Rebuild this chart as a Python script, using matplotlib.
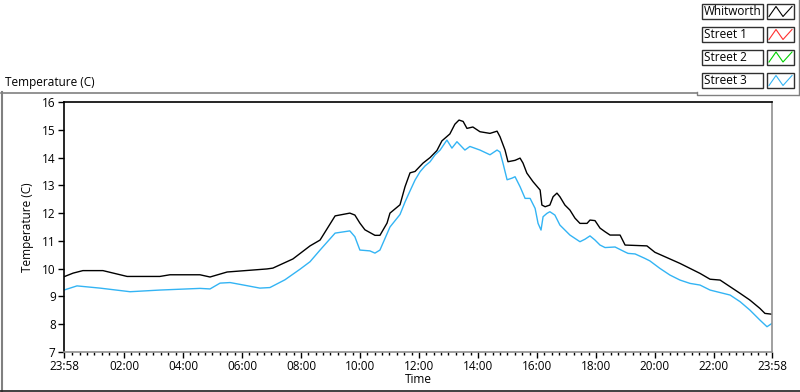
import matplotlib
matplotlib.use("Agg")
import matplotlib.pyplot as plt
from matplotlib.ticker import FixedLocator, MultipleLocator

# hours since 23:58 and temperature (C)
whit_t = [0.00, 0.31, 0.64, 1.32, 2.14, 3.25, 3.59, 4.61, 4.95, 5.53, 6.88, 7.08, 7.76,
          8.34, 8.68, 9.19, 9.69, 9.86, 10.03, 10.20, 10.54, 10.71, 10.95, 11.05, 11.39,
          11.56, 11.73, 11.90, 12.17, 12.41, 12.64, 12.81, 13.08, 13.25, 13.39, 13.53,
          13.66, 13.86, 14.10, 14.44, 14.68, 14.78, 14.95, 15.05, 15.29, 15.46, 15.56,
          15.69, 15.90, 16.14, 16.20, 16.31, 16.47, 16.58, 16.71, 16.81, 16.98, 17.15,
          17.32, 17.49, 17.73, 17.83, 18.00, 18.17, 18.34, 18.51, 18.85, 19.02, 19.76,
          20.03, 20.37, 20.88, 21.22, 21.56, 21.90, 22.24, 22.58, 22.92, 23.25, 23.59,
          23.76, 24.00]
whit_v = [9.71, 9.84, 9.93, 9.93, 9.72, 9.72, 9.78, 9.78, 9.70, 9.88, 9.99, 10.02, 10.35,
          10.82, 11.03, 11.90, 12.00, 11.93, 11.64, 11.40, 11.20, 11.20, 11.64, 12.00, 12.30,
          12.95, 13.45, 13.50, 13.80, 14.00, 14.25, 14.60, 14.85, 15.20, 15.35, 15.30,
          15.05, 15.10, 14.93, 14.87, 14.95, 14.75, 14.27, 13.85, 13.90, 13.98, 13.80,
          13.44, 13.13, 12.83, 12.29, 12.23, 12.29, 12.59, 12.72, 12.59, 12.29, 12.11,
          11.82, 11.63, 11.63, 11.75, 11.73, 11.46, 11.33, 11.21, 11.21, 10.85, 10.82,
          10.59, 10.43, 10.19, 10.01, 9.83, 9.62, 9.59, 9.35, 9.11, 8.87, 8.57,
          8.39, 8.36]

st3_t = [0.00, 0.44, 1.22, 2.24, 3.25, 4.61, 4.95, 5.29, 5.63, 6.14, 6.64, 6.98, 7.49,
         8.00, 8.34, 8.68, 9.19, 9.69, 9.86, 10.03, 10.37, 10.54, 10.71, 11.05, 11.39,
         11.56, 11.73, 11.90, 12.07, 12.24, 12.41, 12.58, 12.75, 12.98, 13.15, 13.32,
         13.59, 13.76, 14.10, 14.44, 14.68, 14.78, 14.88, 15.02, 15.19, 15.29, 15.46,
         15.63, 15.80, 15.97, 16.07, 16.17, 16.24, 16.37, 16.47, 16.64, 16.81, 16.98,
         17.15, 17.32, 17.49, 17.66, 17.83, 18.00, 18.17, 18.34, 18.68, 19.02, 19.12,
         19.36, 19.69, 19.86, 20.20, 20.54, 20.88, 21.22, 21.56, 21.90, 22.24, 22.58,
         22.92, 23.25, 23.59, 23.83, 24.00]
st3_v = [9.23, 9.38, 9.30, 9.17, 9.23, 9.29, 9.27, 9.48, 9.50, 9.40, 9.30, 9.32, 9.60,
         9.98, 10.25, 10.67, 11.28, 11.36, 11.15, 10.67, 10.64, 10.56, 10.67, 11.50, 11.95,
         12.40, 12.80, 13.19, 13.49, 13.70, 13.85, 14.10, 14.27, 14.63, 14.34, 14.57,
         14.27, 14.40, 14.27, 14.10, 14.27, 14.20, 13.80, 13.20, 13.26, 13.31, 12.95,
         12.53, 12.53, 12.17, 11.63, 11.39, 11.87, 11.99, 12.05, 11.93, 11.57, 11.39,
         11.21, 11.09, 10.97, 11.06, 11.18, 11.03, 10.85, 10.76, 10.78, 10.60, 10.55,
         10.53, 10.37, 10.28, 10.01, 9.77, 9.59, 9.47, 9.41, 9.23, 9.14, 9.05,
         8.81, 8.51, 8.15, 7.91, 8.03]

tick_hours = [0, 2.0333, 4.0333, 6.0333, 8.0333, 10.0333, 12.0333, 14.0333, 16.0333,
              18.0333, 20.0333, 22.0333, 24]
tick_labels = ["23:58", "02:00", "04:00", "06:00", "08:00", "10:00", "12:00", "14:00",
               "16:00", "18:00", "20:00", "22:00", "23:58"]

legend_names = ["Whitworth", "Street 1", "Street 2", "Street 3"]
legend_colors = ["#000000", "#ff3030", "#00d000", "#33b4f4"]

plt.rcParams['font.family'] = ['Open Sans', 'DejaVu Sans']
plt.rcParams['font.size'] = 8.5

W, H = 800, 392
fig = plt.figure(figsize=(W / 100, H / 100), dpi=100)

# frame decoration in pixel coords
deco = fig.add_axes([0, 0, 1, 1])
deco.set_xlim(0, W)
deco.set_ylim(H, 0)
deco.axis("off")
deco.plot([1, 697], [92.5, 92.5], color="#808080", lw=1.2)
deco.plot([1.5, 1.5], [92, 392], color="#808080", lw=1.5)
deco.plot([0, 800], [390.5, 390.5], color="#202020", lw=1.2)
deco.plot([697, 697, 798], [92, 95, 95], color="#808080", lw=1)
deco.plot([798.5, 798.5], [0, 95], color="#808080", lw=1)
deco.text(5, 82, "Temperature (C)", ha="left", va="center", fontsize=8.5)

rows = [11.5, 34.5, 57, 80.5]
for name, col, yc in zip(legend_names, legend_colors, rows):
    deco.add_patch(plt.Rectangle((702, yc - 7.5), 61, 15, fill=False, ec="#303030", lw=1))
    deco.add_patch(plt.Rectangle((767, yc - 7.5), 27, 15, fill=False, ec="#303030", lw=1))
    deco.text(704, yc, name, ha="left", va="center", fontsize=8.5)
    deco.plot([769, 776, 783, 792], [yc + 5, yc - 5, yc + 5, yc - 5], color=col, lw=0.8)

ax = fig.add_axes([64 / W, 1 - 352 / H, (772 - 64) / W, (352 - 102) / H])
ax.plot(whit_t, whit_v, color=legend_colors[0], lw=1.0)
ax.plot(st3_t, st3_v, color=legend_colors[3], lw=1.0)
ax.set_xlim(0, 24)
ax.set_ylim(7, 16)
ax.yaxis.set_major_locator(MultipleLocator(1))
ax.xaxis.set_major_locator(FixedLocator(tick_hours))
ax.set_xticklabels(tick_labels)
ax.xaxis.set_minor_locator(FixedLocator([0.0333 + 0.25 * i for i in range(1, 96)]))
ax.tick_params(axis="both", which="major", direction="out", length=4, width=1, pad=2)
ax.tick_params(axis="x", which="minor", direction="out", length=2.5, width=1)
for s in ["left", "top"]:
    ax.spines[s].set_color("black")
for s in ["right", "bottom"]:
    ax.spines[s].set_color("#909090")
for s in ax.spines.values():
    s.set_linewidth(1.2)
ax.set_xlabel("Time", labelpad=0)
ax.set_ylabel("Temperature (C)", labelpad=6)

fig.savefig("out.png", dpi=100)
